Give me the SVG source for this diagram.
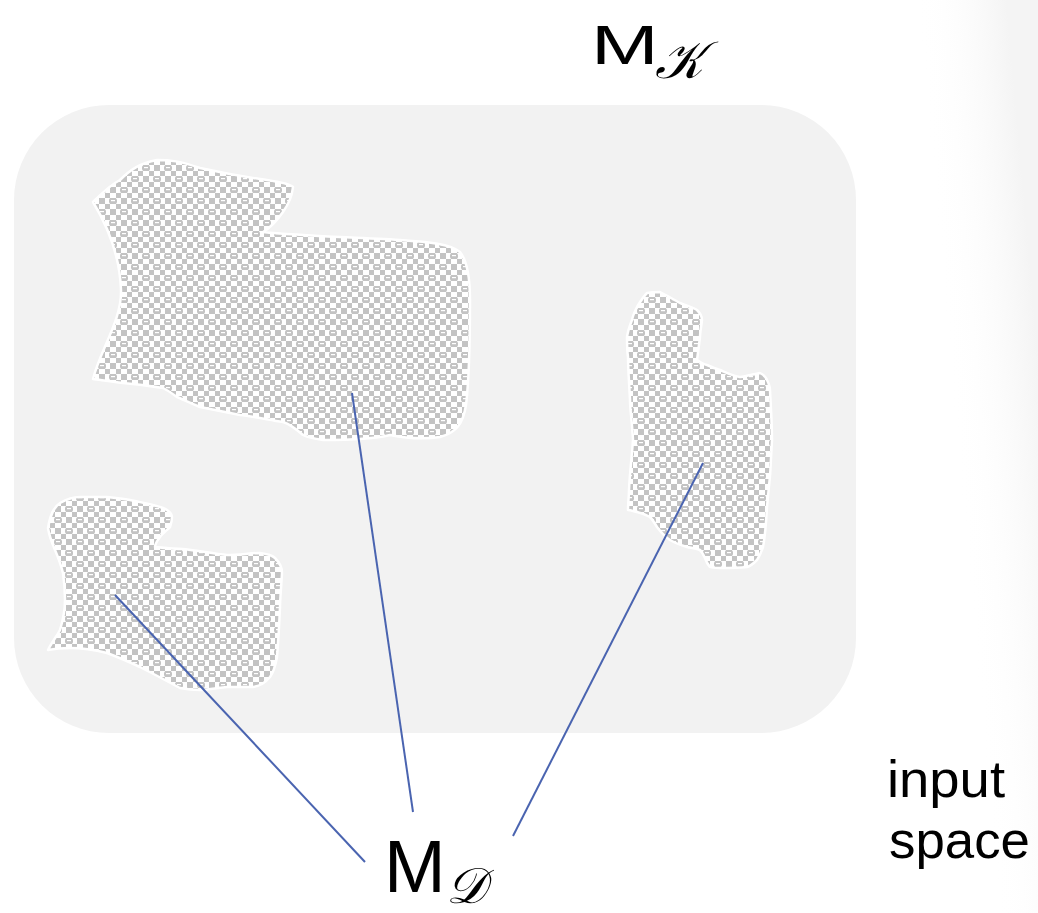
<svg xmlns="http://www.w3.org/2000/svg" width="1038" height="913" viewBox="0 0 1038 913">
  <style>
    .label { font-family: "Liberation Sans", Arial, sans-serif; fill: #000; }
    .script { font-family: "DejaVu Serif", "Liberation Serif", serif; font-style: italic; fill: #000; }
    .region { fill: url(#checker); stroke: #ffffff; stroke-width: 2.5; stroke-linejoin: round; }
    .link { stroke: #4a64b0; stroke-width: 2; fill: none; }
    .g { fill: #c3c3c3; }
    .w { fill: #ffffff; }
  </style>
  <defs>
    <!-- 22px tile: 4x4 checker cells, with a rounded knob and highlight on two cells -->
    <pattern id="checker" width="22" height="22" patternUnits="userSpaceOnUse">
      <rect width="22" height="22" fill="#ffffff"/>
      <rect class="g" x="0" y="0" width="6" height="6"/>
      <rect class="g" x="11" y="0" width="6" height="6"/>
      <rect class="g" x="6" y="6" width="5" height="5"/>
      <rect class="g" x="17" y="6" width="5" height="5"/>
      <rect class="g" x="0" y="11" width="6" height="6"/>
      <rect class="g" x="11" y="11" width="6" height="6"/>
      <rect class="g" x="6" y="17" width="5" height="5"/>
      <rect class="g" x="17" y="17" width="5" height="5"/>
      <!-- knobs -->
      <rect class="g" x="-1" y="0" width="8" height="6" rx="2.5"/>
      <rect class="g" x="21" y="0" width="8" height="6" rx="2.5"/>
      <rect class="g" x="10" y="11" width="8" height="6" rx="2.5"/>
      <rect class="w" x="1" y="2" width="4" height="1.2"/>
      <rect class="w" x="12" y="13" width="4" height="1.2"/>
    </pattern>
    <linearGradient id="edge" gradientUnits="userSpaceOnUse" x1="955" y1="440" x2="1045" y2="432">
      <stop offset="0" stop-color="#ffffff" stop-opacity="0"/>
      <stop offset="1" stop-color="#f4f4f4" stop-opacity="1"/>
    </linearGradient>
  </defs>

  <!-- page -->
  <rect width="1038" height="913" fill="#ffffff"/>
  <rect x="860" y="0" width="178" height="913" fill="url(#edge)"/>

  <!-- input space -->
  <g id="space">
    <rect x="14" y="105" width="842" height="628" rx="95" ry="95" fill="#f2f2f2"/>
  </g>

  <!-- sampled regions -->
  <g id="region-large">
    <path class="region" d="M93,379 C100,350 122,320 121,290 C120,260 110,230 93,202 C100,195 110,185 120,180 C130,170 140,163 157,160 C170,160 180,161 200,168 C223,173 245,177 267,180 C280,182 290,184 293,187 C292,197 288,205 283,212 C276,222 270,228 263,232 C300,236 350,237 400,240 C430,242 450,244 460,252 C468,262 470,280 470,300 C470,340 469,380 466,405 C463,425 455,433 440,437 C420,440 400,437 390,435 C370,440 340,440 323,440 C310,438 305,436 303,435 C295,428 290,424 283,422 C265,419 250,416 240,415 C225,412 210,409 200,407 C188,402 182,399 177,397 C170,392 165,389 163,388 C145,385 135,384 123,383 C110,381 100,380 93,379 Z"/>
  </g>
  <g id="region-small">
    <path class="region" d="M48,528 C50,515 55,506 60,503 C67,499 73,497 80,497 C95,497 100,497 107,497 C118,498 125,499 130,500 C145,503 155,505 163,508 C170,511 172,514 172,517 C172,521 171,524 170,527 C166,531 162,534 160,537 C157,541 155,544 155,547 C165,548 175,549 183,549 C200,551 215,554 227,555 C240,555 250,553 260,553 C268,554 272,555 275,558 C280,563 282,568 282,573 C281,590 280,600 280,607 C279,630 278,645 277,657 C275,668 273,673 270,677 C265,683 260,686 253,687 C240,687 233,687 227,687 C215,688 207,690 200,690 C190,690 185,689 180,688 C165,680 150,672 140,667 C125,660 115,656 107,653 C95,650 80,648 70,648 C60,648 53,649 48,650 C52,642 57,636 60,630 C63,620 65,610 65,600 C65,590 64,580 63,573 C61,565 58,557 55,550 C52,543 49,535 48,528 Z"/>
  </g>
  <g id="region-right">
    <path class="region" d="M647,293 C652,292 656,292 660,292 C668,296 674,300 680,303 C688,306 694,308 697,310 C700,313 702,316 702,320 C701,328 700,333 700,337 C699,345 698,353 697,360 C700,362 703,364 707,365 C712,367 716,369 720,370 C727,373 733,376 740,377 C747,376 754,374 760,373 C764,375 766,377 767,380 C769,384 770,387 770,390 C771,410 772,425 772,440 C771,470 769,490 767,507 C766,525 765,537 763,547 C761,553 759,557 757,560 C754,563 751,566 747,567 C738,568 729,568 720,568 C715,568 712,568 710,567 C707,564 706,561 705,558 C703,554 702,552 700,550 C695,548 691,548 687,547 C680,545 675,543 670,540 C664,536 660,531 657,527 C654,522 652,519 650,517 C645,514 641,513 637,512 C633,511 630,510 628,510 C628,503 629,496 629,490 C630,470 632,455 633,440 C632,420 630,410 630,400 C629,380 628,368 628,357 C627,350 627,343 627,337 C628,330 630,325 632,320 C633,315 635,311 637,307 C640,302 643,297 647,293 Z"/>
  </g>

  <!-- connectors from the label to each region -->
  <g id="connectors">
    <line class="link" x1="115" y1="595" x2="365" y2="862"/>
    <line class="link" x1="352" y1="393" x2="413" y2="812"/>
    <line class="link" x1="703" y1="463" x2="513" y2="836"/>
  </g>

  <!-- labels -->
  <g id="label-mk">
    <text class="label" x="0" y="0" font-size="56" transform="translate(591,64) scale(1.45,1)">M</text>
    <text class="script" x="655" y="78" font-size="52">𝒦</text>
  </g>
  <g id="label-md">
    <text class="label" x="384" y="892" font-size="74">M</text>
    <text class="script" x="446" y="903" font-size="50">𝒟</text>
  </g>
  <g id="label-input">
    <text class="label" x="887" y="797" font-size="52" textLength="118" lengthAdjust="spacingAndGlyphs">input</text>
    <text class="label" x="889" y="858" font-size="52" textLength="141" lengthAdjust="spacingAndGlyphs">space</text>
  </g>
</svg>
